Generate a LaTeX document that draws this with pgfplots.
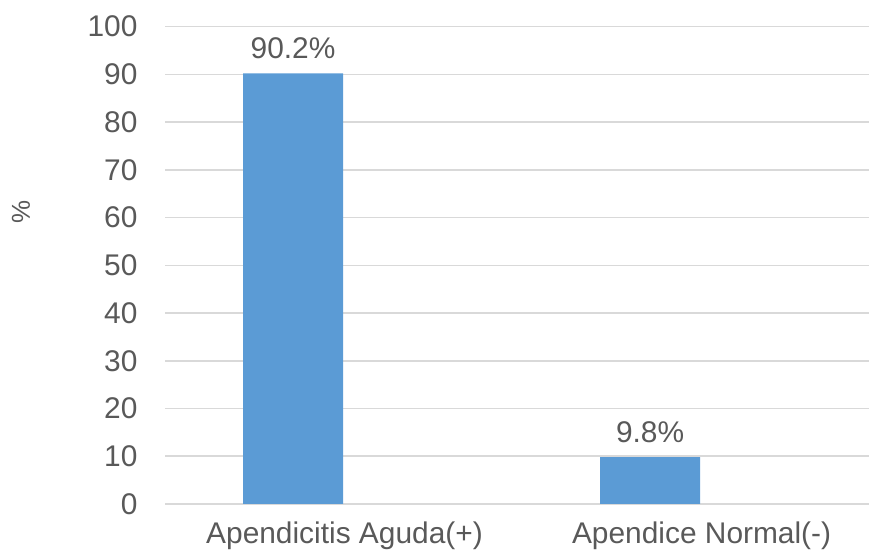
\documentclass[border=0pt]{standalone}
\usepackage{fontspec}
\setmainfont{Liberation Sans}
\usepackage{pgfplots}
\pgfplotsset{compat=1.18}
\definecolor{barblue}{HTML}{5B9BD5}
\definecolor{gridgray}{HTML}{D9D9D9}
\definecolor{txtgray}{HTML}{595959}
\begin{document}
\begin{tikzpicture}
\useasboundingbox (0,0) rectangle (869bp,558bp);
\begin{axis}[
  at={(165bp,54bp)}, anchor=south west,
  scale only axis,
  width=704bp, height=477.3bp,
  xmin=-0.3585, xmax=1.613,
  ymin=0, ymax=100,
  ytick={0,10,...,100},
  xtick={0,1},
  xticklabels={Apendicitis Aguda(+),Apendice Normal(-)},
  axis line style={draw=none},
  major tick length=0pt,
  ymajorgrids,
  grid style={gridgray, line width=1.6bp},
  /pgf/number format/assume math mode=true,
  tick label style={font=\fontsize{30}{36}\selectfont, text=txtgray},
  yticklabel style={xshift=-24bp, anchor=east},
  xticklabel style={xshift=51.5bp, yshift=-14bp, anchor=north},
  ylabel={\%},
  every axis y label/.style={at={(axis description cs:-0.2045,0.612)}, rotate=90, anchor=center, font=\fontsize{26}{30}\selectfont, text=txtgray},
  nodes near coords={\pgfmathprintnumber[fixed,precision=1]{\pgfplotspointmeta}\%},
  nodes near coords style={font=\fontsize{30}{36}\selectfont, text=txtgray, anchor=south, yshift=11bp},
]
\addplot[ybar, bar width=0.28, fill=barblue, draw=none] coordinates {(0,90.2) (1,9.8)};
\end{axis}
\end{tikzpicture}
\end{document}
